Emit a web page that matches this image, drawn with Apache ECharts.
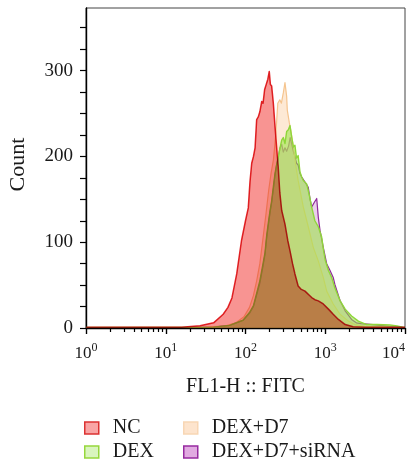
<!DOCTYPE html>
<html><head><meta charset="utf-8">
<script src="https://cdn.jsdelivr.net/npm/echarts@6/dist/echarts.min.js"></script>
<style>html,body{margin:0;padding:0;background:#fff}#c{width:411px;height:468px}</style>
</head><body><div id="c"></div>
<script>
const seriesNames = ['NC', 'DEX', 'DEX+D7', 'DEX+D7+siRNA'];
// histogram points: [log10(FL1-H), count]
const ncPts = [[0,1],[1.2,1],[1.43,2.5],[1.6,6],[1.72,16],[1.78,24],[1.83,35],[1.89,63],[1.95,102],[2.0,125],[2.035,140],[2.056,170],[2.078,192],[2.1,200],[2.12,210],[2.14,243],[2.16,246],[2.18,252],[2.203,264],[2.22,262],[2.24,278],[2.26,284],[2.28,290],[2.298,299],[2.312,284],[2.328,282],[2.349,262],[2.37,235],[2.39,211],[2.41,188],[2.43,158],[2.454,137],[2.495,121],[2.53,102],[2.558,90],[2.59,75],[2.62,63],[2.66,49],[2.7,45],[2.746,43],[2.79,39],[2.83,35.5],[2.87,33],[2.913,31.6],[2.975,28],[3.04,22],[3.1,16],[3.165,10],[3.25,4],[3.35,1.5],[3.5,1],[4,1]];
const dexPts = [[0,0.5],[1.4,0.5],[1.6,1],[1.8,3],[1.97,9],[2.05,18],[2.1,26],[2.18,55],[2.22,75],[2.245,88],[2.266,108],[2.29,125],[2.31,138],[2.328,148],[2.35,165],[2.37,180],[2.39,190],[2.41,198],[2.433,210],[2.454,219],[2.474,222],[2.495,215],[2.516,229],[2.537,231],[2.558,236],[2.58,222],[2.6,211],[2.62,213],[2.64,198],[2.66,201],[2.683,182],[2.705,176],[2.725,172],[2.767,168],[2.8,155],[2.83,141],[2.87,125],[2.913,118],[2.955,106],[2.98,90],[3.0,79],[3.04,67],[3.08,59],[3.12,47],[3.185,32],[3.25,22],[3.33,14],[3.415,8],[3.52,4],[3.65,4],[3.81,3.5],[3.9,2.5],[3.97,1],[4,0.5]];
const d7Pts = [[0,0.5],[1.5,1],[1.75,2.5],[1.88,6],[1.98,13],[2.05,24],[2.1,38],[2.14,55],[2.18,75],[2.22,105],[2.257,133],[2.29,160],[2.32,180],[2.35,196],[2.37,215],[2.39,240],[2.405,262],[2.43,266],[2.45,262],[2.474,274],[2.495,286],[2.516,270],[2.524,254],[2.55,239],[2.567,231],[2.6,212],[2.63,190],[2.66,172],[2.725,141],[2.787,118],[2.85,94],[2.913,78],[2.975,59],[3.018,43],[3.1,28],[3.185,16],[3.29,8],[3.37,4],[3.5,2],[3.7,1.5],[4,0.5]];
const sirnaPts = [[0,0.5],[1.4,0.5],[1.6,1],[1.8,3],[1.97,9],[2.05,17],[2.1,25],[2.18,52],[2.22,72],[2.245,86],[2.266,105],[2.29,122],[2.31,136],[2.328,146],[2.35,162],[2.37,178],[2.39,190],[2.41,200],[2.433,210],[2.454,214],[2.474,205],[2.495,210],[2.516,206],[2.54,212],[2.56,222],[2.58,214],[2.6,206],[2.62,200],[2.64,192],[2.66,190],[2.683,180],[2.705,176],[2.725,173],[2.746,170],[2.787,164],[2.81,150],[2.83,141],[2.86,146],[2.893,151],[2.913,129],[2.934,114],[2.975,94],[3.018,75],[3.06,67],[3.1,59],[3.12,51],[3.185,32],[3.25,20],[3.33,10],[3.39,6],[3.45,5],[3.6,4],[3.8,2],[4,0.5]];
const xTickExponents = [0, 1, 2, 3, 4];
const yTickLabels = [0, 100, 200, 300];

const FONT = '"Liberation Serif", "Times New Roman", serif';
const toData = pts => pts.map(p => [Math.pow(10, p[0]), p[1]]);

function makeRender(data, fill, stroke, lw) {
  return function (params, api) {
    if (params.dataIndex !== 0) return null;
    const pts = data.map(d => api.coord(d));
    const b0 = api.coord([data[0][0], 0]);
    const b1 = api.coord([data[data.length - 1][0], 0]);
    return {
      type: 'group',
      children: [
        { type: 'polygon', shape: { points: [b0].concat(pts, [b1]) }, style: { fill: fill, stroke: null } },
        { type: 'polyline', shape: { points: pts }, style: { fill: null, stroke: stroke, lineWidth: lw, lineJoin: 'round' } }
      ]
    };
  };
}

const layers = [
  { name: 'DEX+D7+siRNA', pts: sirnaPts, fill: 'rgba(170,60,180,0.25)', stroke: '#8e2a9a', lw: 1.2 },
  { name: 'DEX+D7', pts: d7Pts, fill: 'rgba(250,200,150,0.4)', stroke: '#f5c48e', lw: 1.2 },
  { name: 'DEX', pts: dexPts, fill: 'rgba(150,230,60,0.55)', stroke: '#8fd63a', lw: 1.4 },
  { name: 'NC', pts: ncPts, fill: 'rgb(248,148,146)', stroke: '#e3262a', lw: 1.5, blend: 'multiply' }
];

const legendStyles = {
  'NC': { color: '#f9a5a5', borderColor: '#dc3232', borderWidth: 1.5 },
  'DEX': { color: '#d9f5be', borderColor: '#96d73c', borderWidth: 1.5 },
  'DEX+D7': { color: '#fde4cd', borderColor: '#f8d6b4', borderWidth: 1.5 },
  'DEX+D7+siRNA': { color: '#e1aae1', borderColor: '#962aa0', borderWidth: 1.5 }
};

const legendCommon = {
  orient: 'vertical', icon: 'rect', itemWidth: 14, itemHeight: 12, itemGap: 4, padding: 0,
  textStyle: { fontFamily: FONT, fontSize: 20, color: '#1a1a1a', lineHeight: 20, padding: [0, 0, 0, 9] },
  selectedMode: false
};

const chart = echarts.init(document.getElementById('c'), null, { renderer: 'canvas' });
chart.setOption({
  animation: false,
  backgroundColor: '#fff',
  grid: { left: 86, right: 6, top: 8, bottom: 140, show: true, borderColor: '#444', borderWidth: 1, backgroundColor: 'transparent', containLabel: false, outerBoundsMode: 'none' },
  legend: [
    Object.assign({ left: 84, top: 418, data: seriesNames.slice(0, 2).map(n => ({ name: n, itemStyle: legendStyles[n] })) }, legendCommon),
    Object.assign({ left: 183, top: 418, data: seriesNames.slice(2, 4).map(n => ({ name: n, itemStyle: legendStyles[n] })) }, legendCommon)
  ],
  xAxis: {
    type: 'log', logBase: 10, min: 1, max: 10000,
    name: 'FL1-H :: FITC', nameLocation: 'middle', nameGap: 49,
    nameTextStyle: { fontFamily: FONT, fontSize: 20, color: '#1a1a1a' },
    axisLine: { show: true, lineStyle: { color: '#000', width: 1.4 } },
    axisTick: { show: true, length: 6, lineStyle: { color: '#000', width: 1.4 } },
    minorTick: { show: true, splitNumber: 9, length: 4, lineStyle: { color: '#000', width: 1.2 } },
    splitLine: { show: false },
    axisLabel: {
      margin: 14, alignMaxLabel: 'right',
      formatter: function (v) {
        const e = Math.round(Math.log10(v));
        return xTickExponents.indexOf(e) >= 0 ? '{b|10}{s|' + e + '}' : '';
      },
      rich: {
        b: { fontFamily: FONT, fontSize: 17, color: '#1a1a1a', lineHeight: 24 },
        s: { fontFamily: FONT, fontSize: 12, color: '#1a1a1a', verticalAlign: 'top', lineHeight: 13 }
      }
    }
  },
  yAxis: {
    type: 'value', min: 0, max: 373, interval: 25,
    name: 'Count', nameLocation: 'middle', nameGap: 57,
    nameTextStyle: { fontFamily: FONT, fontSize: 22, color: '#1a1a1a', padding: [0, 0, 0, 7] },
    axisLine: { show: true, lineStyle: { color: '#000', width: 1.4 } },
    axisTick: { show: true, length: 6, lineStyle: { color: '#000', width: 1.2 } },
    splitLine: { show: false },
    axisLabel: {
      margin: 13, fontFamily: FONT, fontSize: 19, color: '#1a1a1a', showMaxLabel: false,
      formatter: v => (yTickLabels.indexOf(v) >= 0 ? String(v) : '')
    }
  },
  series: layers.map(l => {
    const data = toData(l.pts);
    const s = {
      type: 'custom', name: l.name, clip: true,
      itemStyle: { color: legendStyles[l.name].color },
      renderItem: makeRender(data, l.fill, l.stroke, l.lw),
      data: data
    };
    if (l.blend) s.blendMode = l.blend;
    return s;
  })
});
</script></body></html>
